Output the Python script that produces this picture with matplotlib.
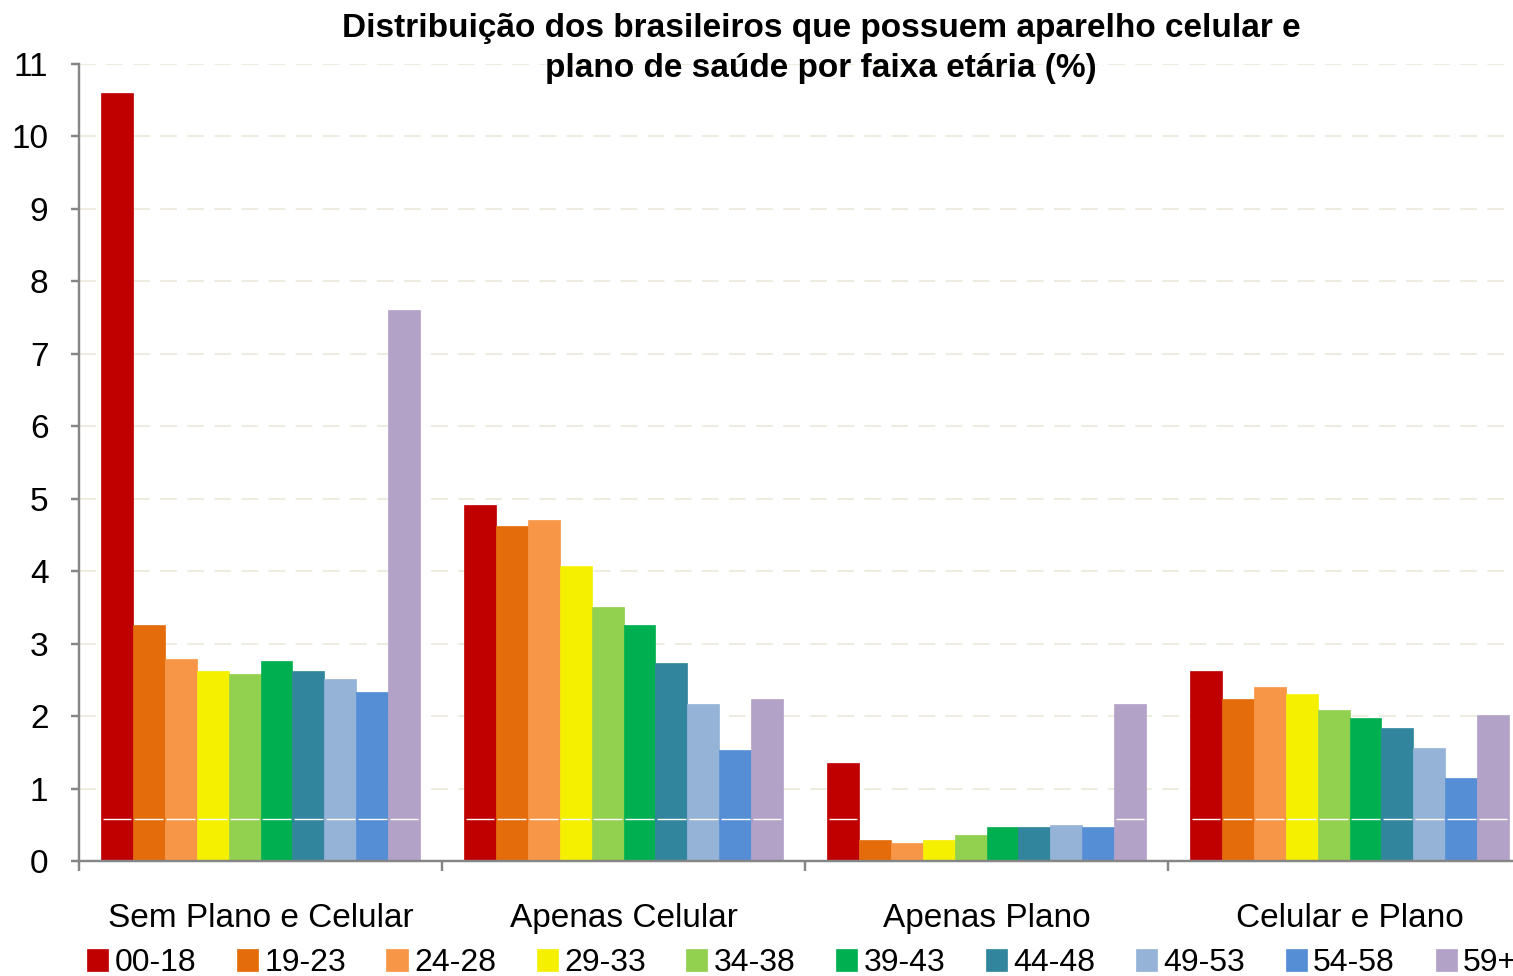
import numpy as np
import matplotlib
matplotlib.use('Agg')
import matplotlib.pyplot as plt

plt.rcParams['font.family'] = ['Liberation Sans', 'DejaVu Sans']

categories = ['Sem Plano e Celular', 'Apenas Celular', 'Apenas Plano', 'Celular e Plano']
age_groups = ['00-18', '19-23', '24-28', '29-33', '34-38', '39-43', '44-48', '49-53', '54-58', '59+']

# one list per age group, values for the four categories
v_00_18 = [10.60, 4.92, 1.35, 2.62]
v_19_23 = [3.26, 4.63, 0.29, 2.23]
v_24_28 = [2.79, 4.71, 0.25, 2.40]
v_29_33 = [2.62, 4.07, 0.29, 2.30]
v_34_38 = [2.58, 3.50, 0.36, 2.09]
v_39_43 = [2.76, 3.26, 0.47, 1.98]
v_44_48 = [2.62, 2.73, 0.47, 1.84]
v_49_53 = [2.51, 2.16, 0.50, 1.56]
v_54_58 = [2.33, 1.53, 0.47, 1.14]
v_59 = [7.60, 2.23, 2.16, 2.02]

colors = ['#C00000', '#E46C0A', '#F79646', '#F5F000', '#92D050',
          '#00B050', '#31859C', '#95B3D7', '#558ED5', '#B3A2C7']

series = [v_00_18, v_19_23, v_24_28, v_29_33, v_34_38,
          v_39_43, v_44_48, v_49_53, v_54_58, v_59]

fig = plt.figure(figsize=(15.13, 9.76), dpi=100)
W, H = 1513, 976
ax = fig.add_axes([79 / W, (H - 861) / H, (1531 - 79) / W, (861 - 64) / H])

n = len(series)
group_w = 319 / 363
bw = group_w / n
x = np.arange(len(categories)) + 0.5
line_y = 0.58

for i, (vals, c, lab) in enumerate(zip(series, colors, age_groups)):
    pos = x - group_w / 2 + bw * (i + 0.5)
    ax.bar(pos, vals, width=bw, color=c, label=lab, zorder=3,
           edgecolor=c, linewidth=0.5)
    for p, v in zip(pos, vals):
        if v > line_y:
            ax.hlines(line_y, p - bw * 0.45, p + bw * 0.45, color='white',
                      linewidth=1.0, zorder=4)

ax.set_xlim(0, len(categories))
ax.set_ylim(0, 11)
ax.set_yticks(range(0, 12))
ax.set_xticks(x)
ax.set_xticklabels(categories, fontsize=24)
ax.set_xticks(np.arange(0, len(categories) + 1), minor=True)
ax.tick_params(axis='x', which='major', length=0, pad=30)
ax.tick_params(axis='x', which='minor', length=7, width=1.75, color='#868686')
ax.tick_params(axis='y', length=6, width=1.75, color='#868686', pad=16, labelsize=24)

ax.yaxis.grid(True, color='#EEEBE1', linestyle=(0, (8, 5)), linewidth=1.5, zorder=0)
ax.set_axisbelow(True)

for s in ['top', 'right']:
    ax.spines[s].set_visible(False)
for s in ['left', 'bottom']:
    ax.spines[s].set_color('#868686')
    ax.spines[s].set_linewidth(1.75)
    ax.spines[s].set_zorder(5)

fig.text(821 / W, 1 - 29 / H, 'Distribuição dos brasileiros que possuem aparelho celular e',
         ha='center', va='center', fontsize=24, fontweight='bold')
fig.text(821 / W, 1 - 68 / H, 'plano de saúde por faixa etária (%)',
         ha='center', va='center', fontsize=24, fontweight='bold')

fig.legend(loc='center left', bbox_to_anchor=(87 / W, 1 - 963 / H), ncol=10,
           frameon=False, fontsize=23, handlelength=0.66, handleheight=0.66,
           handletextpad=0.2, columnspacing=1.27, borderaxespad=0, borderpad=0)

fig.savefig('out.png', dpi=100)
